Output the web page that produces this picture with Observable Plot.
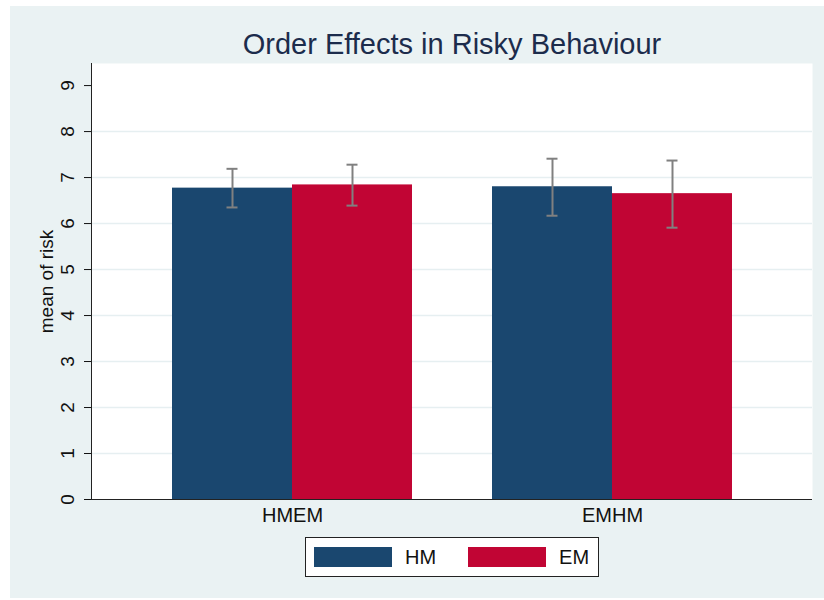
<!DOCTYPE html>
<html>
<head>
<meta charset="utf-8">
<script src="https://cdn.jsdelivr.net/npm/d3@7"></script>
<script src="https://cdn.jsdelivr.net/npm/@observablehq/plot@0.6"></script>
<style>
  body { margin: 0; background: #ffffff; font-family: "Liberation Sans", Arial, sans-serif; }
  #wrap { position: relative; width: 824px; height: 600px; overflow: hidden; }
  #bg { position: absolute; left: 10px; top: 6px; width: 814px; height: 592px; background: #EAF2F3; }
  #title { position: absolute; left: 80px; width: 744px; top: 30px; text-align: center;
           font-size: 29px; line-height: 29px; color: #1C2C4C; white-space: nowrap; }
  .layer { position: absolute; left: 0; top: 50px; }
  #legend { position: absolute; left: 305px; top: 537px; width: 294px; height: 40px; box-sizing: border-box;
            border: 1.5px solid #222; background: #fff; display: flex; align-items: center; padding-left: 8px; }
  .item { display: flex; align-items: center; margin-right: 32px; }
  .sw { width: 78px; height: 20px; margin-right: 13px; }
  .lab { font-size: 20px; color: #111; }
</style>
</head>
<body>
<div id="wrap">
  <div id="bg"></div>
  <div id="title"></div>
  <div id="back" class="layer"></div>
  <div id="front" class="layer"></div>
  <div id="legend"></div>
</div>
<script>
const titleText = "Order Effects in Risky Behaviour";
const yLabel = "mean of risk";
const groups = ["HMEM", "EMHM"];
const series = ["HM", "EM"];
const seriesColors = ["#1A476F", "#C10534"];
const hmMean = [6.77, 6.80];
const emMean = [6.84, 6.65];
const hmLow = [6.35, 6.17];
const hmHigh = [7.19, 7.41];
const emLow = [6.39, 5.91];
const emHigh = [7.28, 7.37];
const yTicks = [0, 1, 2, 3, 4, 5, 6, 7, 8, 9];
const gridTicks = [1, 2, 3, 4, 5, 6, 7, 8];
const yMax = 9.48;

const rows = [];
groups.forEach((g, i) => {
  rows.push({group: g, series: "HM", mean: hmMean[i], lo: hmLow[i], hi: hmHigh[i]});
  rows.push({group: g, series: "EM", mean: emMean[i], lo: emLow[i], hi: emHigh[i]});
});

document.getElementById("title").textContent = titleText;

const common = {
  width: 824,
  height: 490,
  marginTop: 13,
  marginBottom: 41,
  marginLeft: 91,
  marginRight: 12,
  style: {background: "transparent", fontFamily: "'Liberation Sans', Arial, sans-serif", color: "#111"}
};

// Background layer: plot region, grid, y axis, axis lines
const back = Plot.plot({
  ...common,
  y: {domain: [0, yMax], axis: null},
  marks: [
    Plot.frame({fill: "white", stroke: "none"}),
    Plot.gridY(gridTicks, {stroke: "#E6EFF1", strokeOpacity: 1, strokeWidth: 1.5}),
    Plot.axisY({ticks: yTicks, tickSize: 7, tickPadding: 11, tickRotate: -90, textAnchor: "middle",
                lineAnchor: "bottom", fontSize: 19, label: yLabel, labelAnchor: "center",
                labelArrow: "none", labelOffset: 52}),
    Plot.frame({anchor: "left", stroke: "#222"}),
    Plot.ruleY([0], {stroke: "#222"})
  ]
});
document.getElementById("back").appendChild(back);

// Foreground layer: grouped bars with error bars
const errColor = "#808080";
const front = Plot.plot({
  ...common,
  fx: {domain: groups, paddingInner: 0.25, paddingOuter: 0.25, label: null},
  x: {domain: series, padding: 0, axis: null},
  y: {domain: [0, yMax], axis: null},
  color: {domain: series, range: seriesColors},
  marks: [
    Plot.barY(rows, {fx: "group", x: "series", y: "mean", fill: "series"}),
    Plot.ruleX(rows, {fx: "group", x: "series", y1: "lo", y2: "hi", stroke: errColor, strokeWidth: 2}),
    Plot.tickY(rows, {fx: "group", x: "series", y: "lo", stroke: errColor, strokeWidth: 2, insetLeft: 54.5, insetRight: 54.5}),
    Plot.tickY(rows, {fx: "group", x: "series", y: "hi", stroke: errColor, strokeWidth: 2, insetLeft: 54.5, insetRight: 54.5}),
    Plot.axisFx({anchor: "bottom", tickSize: 0, tickPadding: 8, fontSize: 20, label: null})
  ]
});
document.getElementById("front").appendChild(front);

const legend = document.getElementById("legend");
series.forEach((s, i) => {
  const item = document.createElement("div");
  item.className = "item";
  const sw = document.createElement("div");
  sw.className = "sw";
  sw.style.background = seriesColors[i];
  const lab = document.createElement("span");
  lab.className = "lab";
  lab.textContent = s;
  item.appendChild(sw);
  item.appendChild(lab);
  legend.appendChild(item);
});
</script>
</body>
</html>
